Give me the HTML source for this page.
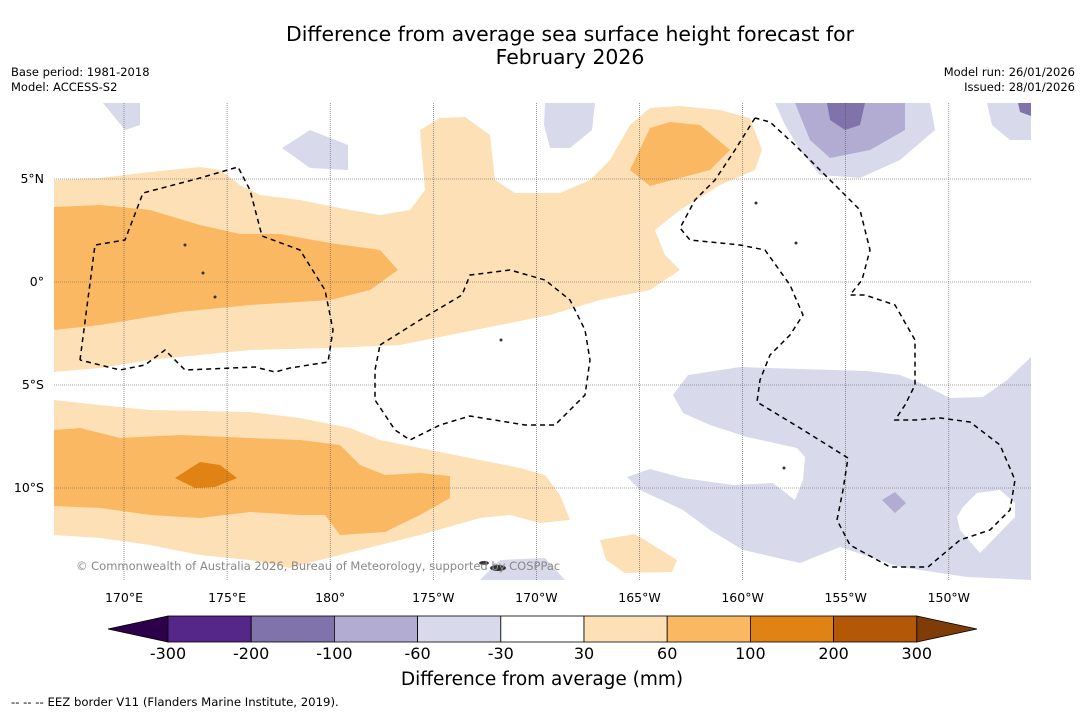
<!DOCTYPE html>
<html><head><meta charset="utf-8"><style>
body{margin:0;background:#fff;font-family:"DejaVu Sans","Liberation Sans",sans-serif}
svg{display:block}
</style></head><body>
<svg width="1085" height="713" xmlns="http://www.w3.org/2000/svg" font-family="DejaVu Sans, Liberation Sans, sans-serif">
<rect width="1085" height="713" fill="#fff"/>
<text x="570" y="41" font-size="20.4" text-anchor="middle">Difference from average sea surface height forecast for</text>
<text x="570" y="64" font-size="20.4" text-anchor="middle">February 2026</text>
<text x="11" y="76" font-size="11.5">Base period: 1981-2018</text>
<text x="11" y="91" font-size="11.5">Model: ACCESS-S2</text>
<text x="1075" y="76" font-size="11.5" text-anchor="end">Model run: 26/01/2026</text>
<text x="1075" y="91" font-size="11.5" text-anchor="end">Issued: 28/01/2026</text>

<g>
<clipPath id="mc"><rect x="54" y="103" width="977" height="477"/></clipPath>
<g clip-path="url(#mc)">
<polygon fill="#fde0b6" points="54,180 100,178 150,172 200,167 220,170 240,185 260,195 300,200 350,210 380,215 410,210 425,190 420,130 440,118 465,117 490,135 495,180 515,193 560,193 590,180 610,160 630,125 650,108 680,106 720,110 750,118 762,150 755,170 720,185 680,210 655,230 665,255 680,270 650,290 600,300 550,315 500,325 450,335 400,345 330,348 250,350 150,360 100,368 54,372"/>
<polygon fill="#fbb862" points="54,207 100,205 150,210 200,225 240,234 280,234 330,243 380,250 398,270 370,290 330,300 250,305 180,312 100,325 54,330"/>
<polygon fill="#fbb862" points="630,170 650,128 670,122 700,125 730,150 710,170 650,186"/>
<polygon fill="#fde0b6" points="54,400 100,405 150,410 250,412 300,418 350,428 380,440 430,450 480,460 520,468 545,475 560,495 570,520 540,523 510,515 480,518 420,535 380,545 320,560 290,568 250,560 200,555 150,545 100,538 54,535"/>
<polygon fill="#fbb862" points="54,430 80,428 120,438 180,435 250,438 300,440 340,445 360,465 385,475 420,473 450,476 450,498 420,515 385,532 340,535 325,515 300,515 250,512 200,518 150,515 100,508 54,506"/>
<polygon fill="#e08214" points="175,478 200,462 220,465 237,478 215,487 195,488"/>
<polygon fill="#fde0b6" points="600,540 635,534 677,560 672,572 625,573 606,560"/>
<polygon fill="#d8daeb" points="673,395 688,375 740,367 800,369 867,371 900,375 920,383 950,398 983,397 1007,380 1031,357 1031,580 967,577 900,567 840,547 800,563 743,550 710,530 683,510 640,490 627,477 650,469 683,478 733,485 773,483 795,500 803,480 805,457 797,448 747,437 710,425 683,413"/>
<polygon fill="#fff" points="963,507 977,493 1000,490 1015,503 1015,517 980,553 960,530 957,517"/>
<polygon fill="#b2abd2" points="882,500 895,492 906,503 895,513"/>
<polygon fill="#d8daeb" points="775,103 930,103 935,130 900,160 860,178 820,175 800,150 785,125"/>
<polygon fill="#b2abd2" points="795,103 905,103 905,130 870,150 830,158 810,140"/>
<polygon fill="#8073ac" points="827,103 865,103 860,125 845,130 830,120"/>
<polygon fill="#d8daeb" points="103,103 140,103 140,125 125,130"/>
<polygon fill="#d8daeb" points="282,148 310,130 348,145 348,170 310,168"/>
<polygon fill="#d8daeb" points="545,103 595,103 592,130 570,148 550,148 544,125"/>
<polygon fill="#d8daeb" points="987,103 1031,103 1031,140 1010,140 992,125"/>
<polygon fill="#8073ac" points="1018,103 1031,103 1031,116 1020,112"/>
<polygon fill="#d8daeb" points="480,580 500,560 545,558 565,580"/>
</g>
<g stroke="#555" stroke-width="0.6" stroke-dasharray="1,1" id="grat"></g>
<g fill="none" stroke="#000" stroke-width="1.5" stroke-dasharray="5,4">
<polyline points="80,360 95,245 125,240 143,193 200,178 238,167 250,190 262,236 300,250 325,290 333,330 328,362 290,368 275,372 255,367 185,370 165,350 145,365 120,370 80,360"/>
<polyline points="380,345 420,320 462,295 470,275 510,270 545,280 570,300 585,330 590,360 585,395 570,410 555,425 525,425 470,416 440,425 410,440 395,430 375,400 375,370 380,345"/>
<polyline points="755,118 735,150 715,180 695,200 680,228 690,240 740,245 765,250 790,285 803,315 790,335 770,355 760,380 757,402 800,428 848,458 843,490 837,520 850,545 890,567 928,567 960,540 990,530 1010,510 1015,480 1000,445 970,422 940,418 915,420 895,420 905,405 915,385 915,340 895,305 865,295 850,295 862,280 870,250 860,210 835,185 820,170 795,145 770,122 755,118"/>
</g>
<g fill="#333">
<circle cx="185" cy="245" r="1.5"/><circle cx="203" cy="273" r="1.5"/><circle cx="215" cy="297" r="1.5"/><circle cx="501" cy="340" r="1.5"/><circle cx="784" cy="468" r="1.5"/><circle cx="796" cy="243" r="1.5"/><circle cx="756" cy="203" r="1.5"/>
<ellipse cx="498" cy="568" rx="8" ry="3"/><ellipse cx="484" cy="563" rx="5" ry="2"/>
</g>
<text x="76" y="570" font-size="11.5" fill="#888">© Commonwealth of Australia 2026, Bureau of Meteorology, supported by COSPPac</text>
</g>
<g font-size="12.5" id="axl"></g>
<g id="cbar"></g>
<text x="542" y="685" font-size="18.5" text-anchor="middle">Difference from average (mm)</text>
<text x="11" y="706" font-size="11.7">--  --  -- EEZ border V11 (Flanders Marine Institute, 2019).</text>
</svg>
<script>
const lonLabels=["170°E","175°E","180°","175°W","170°W","165°W","160°W","155°W","150°W"];
const latLabels=["5°N","0°","5°S","10°S"];
const cbColors=["#542788","#8073ac","#b2abd2","#d8daeb","#ffffff","#fde0b6","#fbb862","#e08214","#b35806"];
const cbTicks=["-300","-200","-100","-60","-30","30","60","100","200","300"];
const NS="http://www.w3.org/2000/svg";
function mk(t,a,p){const e=document.createElementNS(NS,t);for(const k in a)e.setAttribute(k,a[k]);p.appendChild(e);return e;}
const lonX=i=>124+i*103.1, latY=i=>179+i*103;
const g=document.getElementById('grat'), ax=document.getElementById('axl');
lonLabels.forEach((l,i)=>{const x=lonX(i);
 const ln=mk('line',{x1:x,x2:x,y1:103,y2:580},g);
 
 
 const t=mk('text',{x:x,y:602,'text-anchor':'middle'},ax);t.textContent=l;
 
 });
latLabels.forEach((l,i)=>{const y=latY(i);
 const ln=mk('line',{x1:54,x2:1031,y1:y,y2:y},g);
 
 
 const t=mk('text',{x:44,y:y+4,'text-anchor':'end'},ax);t.textContent=l;
 
 });
const cb=document.getElementById('cbar');const x0=168,w=83.2,y0=616,h=26;
const lt=mk('polygon',{points:`108,629 ${x0},${y0} ${x0},${y0+h}`,fill:'#2d004b',stroke:'#000','stroke-width':0.8},cb);


cbColors.forEach((c,i)=>{const r=mk('rect',{x:x0+i*w,y:y0,width:w,height:h,fill:c,stroke:'#000','stroke-width':0.8},cb);
 
 });
const xe=x0+cbColors.length*w;
const rt=mk('polygon',{points:`${xe},${y0} 977,629 ${xe},${y0+h}`,fill:'#7f3b08',stroke:'#000','stroke-width':0.8},cb);


cbTicks.forEach((l,i)=>{const t=mk('text',{x:x0+i*w,y:659,'font-size':16,'text-anchor':'middle'},cb);t.textContent=l;
 
 });
</script>
</body></html>
